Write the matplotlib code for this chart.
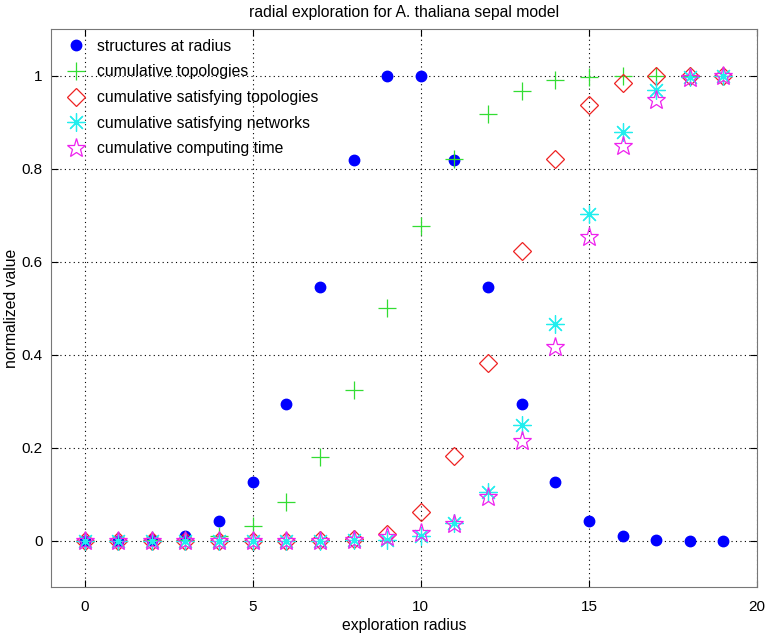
import matplotlib
matplotlib.use("Agg")
import matplotlib.pyplot as plt

plt.rcParams['font.family'] = ['Liberation Sans', 'DejaVu Sans']

radius = list(range(20))
structures = [0.0, 0.0, 0.002, 0.010, 0.042, 0.126, 0.294, 0.545, 0.818, 1.0,
              1.0, 0.818, 0.545, 0.294, 0.126, 0.042, 0.010, 0.002, 0.0, 0.0]
cum_topologies = [0.0, 0.0, 0.0004, 0.002, 0.010, 0.032, 0.084, 0.180, 0.324, 0.500,
                  0.676, 0.820, 0.917, 0.968, 0.990, 0.998, 1.0, 1.0, 1.0, 1.0]
cum_sat_topologies = [0.0, 0.0, 0.0, 0.0, 0.0, 0.0, 0.0, 0.001, 0.003, 0.014,
                      0.061, 0.181, 0.383, 0.622, 0.821, 0.938, 0.985, 1.0, 1.0, 1.0]
cum_sat_networks = [0.0, 0.0, 0.0, 0.0, 0.0, 0.0, 0.0, 0.0, 0.001, 0.002,
                    0.009, 0.037, 0.104, 0.249, 0.466, 0.702, 0.880, 0.970, 0.998, 1.0]
cum_time = [0.0, 0.0, 0.0, 0.0, 0.0, 0.0, 0.0, 0.0, 0.002, 0.008,
            0.017, 0.036, 0.093, 0.215, 0.416, 0.652, 0.848, 0.948, 0.995, 1.0]

labels = ['structures at radius', 'cumulative topologies',
          'cumulative satisfying topologies', 'cumulative satisfying networks',
          'cumulative computing time']

fig = plt.figure(figsize=(7.67, 6.36), dpi=100)
ax = fig.add_axes([0.0665, 0.077, 0.9205, 0.877])

ax.plot(radius, structures, linestyle='none', marker='o', ms=7.5,
        color='#0000ff', mec='#0000ff', label=labels[0])
ax.plot(radius, cum_topologies, linestyle='none', marker='+', ms=13, mew=0.9,
        color='#33dd33', label=labels[1])
ax.plot(radius, cum_sat_topologies, linestyle='none', marker='D', ms=9, mew=0.9,
        mfc='none', mec='#ee2222', label=labels[2])
ax.plot(radius, cum_sat_networks, linestyle='none', marker=(8, 2, 0), ms=13, mew=0.9,
        color='#22eeee', label=labels[3])
ax.plot(radius, cum_time, linestyle='none', marker='*', ms=14, mew=0.9,
        mfc='none', mec='#ee22ee', label=labels[4])

ax.set_xlim(-1, 20)
ax.set_ylim(-0.1, 1.1)
ax.set_xticks([0, 5, 10, 15, 20])
ax.set_yticks([0, 0.2, 0.4, 0.6, 0.8, 1])
ax.set_yticklabels(['0', '0.2', '0.4', '0.6', '0.8', '1'])
ax.grid(True, linestyle=(0, (1, 3)), color='black', linewidth=0.8)
ax.tick_params(direction='in', top=True, right=True, labelsize=11, length=5)
ax.tick_params(axis='x', pad=9)
ax.tick_params(axis='y', pad=6)
for s in ax.spines.values():
    s.set_color('#777777')

ax.set_title('radial exploration for A. thaliana sepal model', fontsize=11.3, pad=9)
ax.set_xlabel('exploration radius', fontsize=11.3, labelpad=3)
ax.set_ylabel('normalized value', fontsize=11.3, labelpad=2)

ax.legend(loc='upper left', bbox_to_anchor=(0.0132, 0.9914), frameon=False,
          fontsize=11.3, handletextpad=0.64, borderaxespad=0.0, borderpad=0.3,
          labelspacing=0.68, handlelength=1.4)

fig.savefig('out.png', dpi=100)
